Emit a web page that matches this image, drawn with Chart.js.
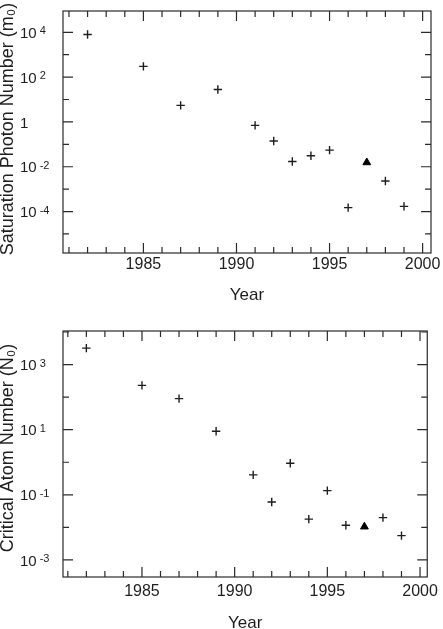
<!DOCTYPE html>
<html>
<head>
<meta charset="utf-8">
<script src="https://cdn.jsdelivr.net/npm/chart.js@4/dist/chart.umd.min.js"></script>
<style>
  html, body { margin: 0; padding: 0; background: #fff; }
  #wrap { position: relative; width: 443px; height: 629px; }
  canvas { position: absolute; left: 0; }
</style>
</head>
<body>
<div id="wrap">
  <canvas id="photon" width="443" height="310" style="top:0"></canvas>
  <canvas id="atom" width="443" height="319" style="top:310px"></canvas>
</div>
<script>
// data
const years = [1982, 1985, 1987, 1989, 1991, 1992, 1993, 1994, 1995, 1996, 1998, 1999];
const photonNumber = [8000, 300, 5.5, 28, 0.7, 0.14, 0.017, 0.031, 0.055, 1.5e-4, 0.0023, 1.7e-4];
const atomNumber = [3200, 230, 90, 9, 0.41, 0.06, 0.93, 0.018, 0.135, 0.0117, 0.02, 0.0056];
const triangleYear = [1997];
const photonTriangle = [0.0155];
const atomTriangle = [0.0105];

const yearTicks = [1985, 1990, 1995, 2000];
const photonTicks = [1e4, 1e2, 1, 1e-2, 1e-4];
const atomTicks = [1e3, 1e1, 1e-1, 1e-3];

const FAMILY = '"Liberation Sans", Arial, sans-serif';
const INK = '#1e1e1e';

// box, inward ticks on all four sides, power-of-ten labels and rotated y title
const frame = {
  id: 'frame',
  afterDatasetsDraw(chart, args, opts) {
    const { ctx, chartArea: a, scales: { x, y } } = chart;
    ctx.save();
    ctx.strokeStyle = '#2a2a2a';
    ctx.lineWidth = 1.2;
    ctx.strokeRect(a.left, a.top, a.right - a.left, a.bottom - a.top);
    ctx.beginPath();
    for (let yr = Math.ceil(x.min); yr <= Math.floor(x.max); yr++) {
      const px = x.getPixelForValue(yr);
      const len = yr % 5 === 0 ? 10 : 6;
      ctx.moveTo(px, a.bottom); ctx.lineTo(px, a.bottom - len);
      ctx.moveTo(px, a.top); ctx.lineTo(px, a.top + len);
    }
    const majors = y.ticks.map(t => Math.round(Math.log10(t.value)));
    for (let e = Math.ceil(Math.log10(y.min)); e <= Math.floor(Math.log10(y.max)); e++) {
      const py = y.getPixelForValue(Math.pow(10, e));
      const len = majors.includes(e) ? 10 : 6;
      ctx.moveTo(a.left, py); ctx.lineTo(a.left + len, py);
      ctx.moveTo(a.right, py); ctx.lineTo(a.right - len, py);
    }
    ctx.stroke();

    // tick labels: 10 with a raised exponent
    ctx.fillStyle = INK;
    y.ticks.forEach(t => {
      const e = Math.round(Math.log10(t.value));
      const py = y.getPixelForValue(t.value) + 1.5;
      ctx.font = '15px ' + FAMILY;
      ctx.textAlign = 'left';
      ctx.textBaseline = 'middle';
      if (e === 0) { ctx.fillText('1', 20, py); return; }
      ctx.fillText('10', 20, py);
      const w = ctx.measureText('10').width;
      ctx.font = '11px ' + FAMILY;
      ctx.textBaseline = 'alphabetic';
      ctx.fillText(String(e), 20 + w + 3, py + 0.5);
    });

    // y title
    ctx.translate(12.5, (a.top + a.bottom) / 2 + opts.titleShift);
    ctx.rotate(-Math.PI / 2);
    ctx.font = '18px ' + FAMILY;
    ctx.textAlign = 'center';
    ctx.textBaseline = 'alphabetic';
    ctx.fillText(opts.title, 0, 0);
    ctx.restore();
  }
};

function makeChart(id, cfg) {
  return new Chart(document.getElementById(id), {
    type: 'scatter',
    data: {
      datasets: [{
        data: years.map((yr, i) => ({ x: yr, y: cfg.values[i] })),
        pointStyle: 'cross',
        radius: 4.2,
        borderColor: INK,
        borderWidth: 1.4
      }, {
        data: triangleYear.map((yr, i) => ({ x: yr, y: cfg.triangle[i] })),
        pointStyle: 'triangle',
        radius: 4.5,
        backgroundColor: '#000',
        borderColor: '#000',
        borderWidth: 1
      }]
    },
    options: {
      responsive: false,
      animation: false,
      layout: { padding: cfg.padding },
      plugins: {
        legend: { display: false },
        tooltip: { enabled: false },
        frame: { title: cfg.title, titleShift: cfg.titleShift }
      },
      scales: {
        x: {
          type: 'linear',
          min: cfg.xMin,
          max: cfg.xMax,
          grid: { display: false, drawTicks: false, tickLength: 0 },
          border: { display: false },
          afterBuildTicks: s => { s.ticks = yearTicks.map(v => ({ value: v })); },
          afterFit: s => { s.height = cfg.xHeight; },
          ticks: { font: { family: FAMILY, size: 16 }, color: INK, padding: cfg.xPad, maxRotation: 0, autoSkip: false, callback: v => String(v) },
          title: { display: true, text: 'Year', font: { family: FAMILY, size: 17 }, color: INK, padding: { top: 0, bottom: cfg.yearPad } }
        },
        y: {
          type: 'logarithmic',
          min: cfg.yMin,
          max: cfg.yMax,
          grid: { display: false, drawTicks: false, tickLength: 0 },
          border: { display: false },
          afterBuildTicks: s => { s.ticks = cfg.ticks.map(v => ({ value: v })); },
          afterFit: s => { s.width = 63; },
          ticks: { display: false }
        }
      }
    },
    plugins: [frame]
  });
}

makeChart('photon', {
  values: photonNumber, triangle: photonTriangle, ticks: photonTicks,
  title: 'Saturation Photon Number (m₀)', titleShift: -3,
  xMin: 1980.68, xMax: 2000.45,
  yMin: Math.pow(10, -5.85), yMax: Math.pow(10, 4.95),
  padding: { left: 0, right: 12, top: 11, bottom: 0 },
  xHeight: 57, xPad: 2, yearPad: 4
});

makeChart('atom', {
  values: atomNumber, triangle: atomTriangle, ticks: atomTicks,
  title: 'Critical Atom Number (N₀)', titleShift: -6,
  xMin: 1980.74, xMax: 2000.39,
  yMin: Math.pow(10, -3.47), yMax: Math.pow(10, 4.03),
  padding: { left: 0, right: 9, top: 21, bottom: 0 },
  xHeight: 52, xPad: 5, yearPad: -5
});
</script>
</body>
</html>
